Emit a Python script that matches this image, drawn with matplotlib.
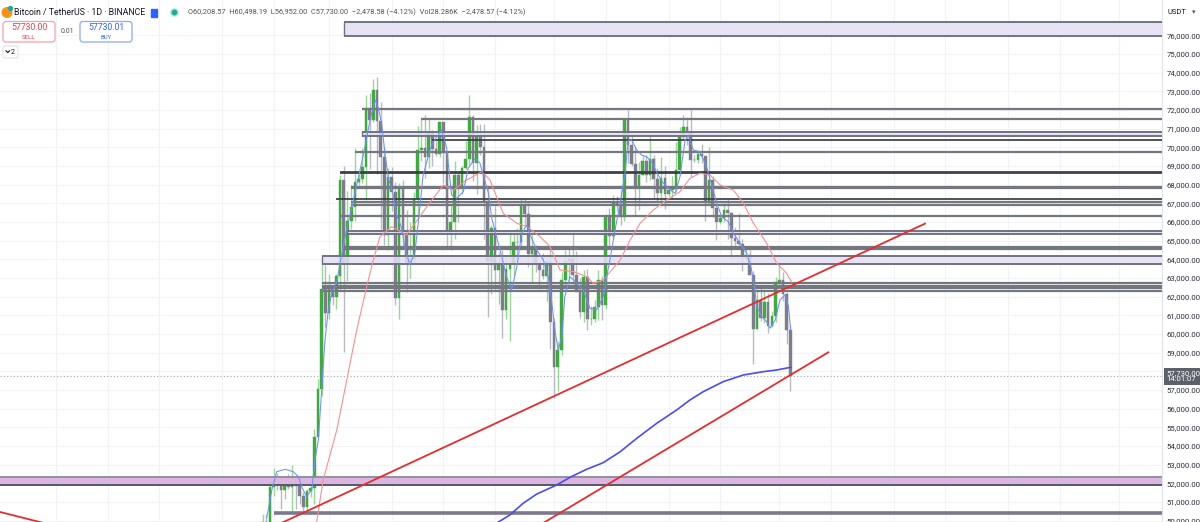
import numpy as np
import pandas as pd
import matplotlib
matplotlib.use("Agg")
import matplotlib.pyplot as plt
import matplotlib.transforms as mtransforms
from matplotlib.patches import FancyBboxPatch, Circle, Rectangle
from matplotlib.ticker import FuncFormatter

plt.rcParams['font.family'] = ['Roboto', 'DejaVu Sans']

# ---------------- data ----------------
base_day = '2024-02-14'          # day offsets below are counted from this date
first_candle = '2024-02-12'

opens = [48300, 49917, 49699, 51795, 51912, 52120, 51662, 52121, 51780, 52259, 51839, 51304, 50731, 51571,
         51733, 54476, 57037, 62432, 61130, 62387, 61987, 63113, 68245, 63724, 66074, 66823, 68124, 68313,
         68955, 72099, 71452, 73072, 71388, 69499, 65300, 68393, 67609, 61937, 67840, 65501, 63797, 64037,
         67211, 69880, 69988, 69455, 70744, 69892, 69645, 71333, 69702, 65446, 65980, 68508, 67837, 68896,
         69360, 71620, 69146, 70631, 70006, 67116, 63924, 65661, 63420, 63793, 61277, 63470, 63818, 64941,
         64926, 66838, 66407, 64276, 64481, 63756, 63419, 63113, 63841, 60637, 58254, 59123, 62889, 63891,
         64031, 63161, 62334, 61188, 63049, 60792, 60793, 61448, 62901, 61552, 66256, 65231, 67051, 66940,
         66278, 71446, 70136, 69122, 67929, 68526, 69265, 68518, 69394, 68296, 67578, 68364, 67491, 67706,
         67752, 68804, 70567, 71082, 70757, 69342, 69305, 69647, 69513, 66998, 68242, 66757, 66012, 66192,
         66640, 66491, 65140, 64960, 64828, 64096, 64252, 63180, 60277, 61806, 60864, 61706, 60427, 60986,
         62772, 62900, 62123, 60209]
highs = [50334, 50368, 52043, 52816, 52572, 52200, 52348, 52483, 52985, 52382, 52027, 51548, 51700, 51950,
         54910, 57588, 64000, 63676, 63200, 62433, 63231, 68500, 69000, 67637, 67985, 69990, 68590, 69940,
         72800, 72910, 73650, 73777, 72422, 70043, 68918, 68955, 68121, 68100, 68240, 66650, 65999, 67622,
         71150, 71561, 71727, 71552, 70916, 70357, 71366, 71337, 69708, 66914, 69291, 68725, 69001, 70326,
         72797, 71742, 71172, 71256, 71227, 67931, 65840, 66867, 64365, 64500, 64117, 65450, 65389, 65665,
         67233, 67208, 67075, 65297, 64789, 63923, 64362, 64228, 64734, 60860, 59602, 63321, 64494, 64646,
         65500, 64422, 62986, 63420, 63469, 61490, 61818, 63450, 63118, 66444, 66739, 67451, 67400, 67700,
         71515, 71979, 70625, 70041, 69220, 69563, 69562, 70687, 69562, 68903, 69500, 69000, 67857, 68447,
         70274, 71063, 71758, 71625, 71997, 69582, 69850, 70195, 69560, 69999, 68449, 67294, 66400, 66996,
         67244, 66560, 65727, 66482, 65066, 64527, 64523, 63369, 62292, 62480, 62293, 62189, 61225, 63058,
         63861, 63300, 62273, 60498]
lows = [47710, 48300, 49225, 51314, 51625, 50625, 51165, 51700, 50521, 50625, 50875, 50500, 50583, 51280,
        50901, 54450, 56690, 60364, 60777, 61561, 61320, 62300, 59005, 62848, 65603, 66074, 67958, 68108,
        67194, 68845, 71333, 68555, 65630, 64780, 64522, 66566, 61555, 60775, 64529, 62260, 63000, 63794,
        66385, 69280, 68381, 68903, 69009, 69560, 69504, 68062, 64533, 64493, 65064, 66011, 67491, 68857,
        69040, 68212, 67518, 69571, 65086, 60919, 62134, 62274, 61600, 59768, 60775, 59600, 63090, 64207,
        64500, 65864, 63589, 62794, 63322, 62424, 62945, 61765, 59191, 56552, 56937, 58849, 62584, 62822,
        62700, 62261, 60877, 60648, 60187, 60492, 60632, 60759, 60760, 61320, 64601, 65106, 66601, 65858,
        66060, 69162, 68977, 66356, 66622, 68515, 68128, 68250, 67280, 67125, 67118, 66670, 67386, 67257,
        67611, 68507, 70383, 70119, 68420, 69208, 69160, 69160, 66051, 66902, 66251, 65056, 65880, 66023,
        65071, 64060, 64694, 64560, 63379, 63944, 63178, 58402, 60239, 60712, 60583, 60063, 60388, 60632,
        62500, 61768, 59437, 56952]
closes = [49917, 49699, 51795, 51912, 52120, 51662, 52121, 51780, 52259, 51839, 51304, 50731, 51571, 51733,
          54476, 57037, 62432, 61130, 62387, 61987, 63113, 68245, 63724, 66074, 66823, 68124, 68313, 68955,
          72099, 71452, 73072, 71388, 69499, 65300, 68393, 67609, 61937, 67840, 65501, 63797, 64037, 67211,
          69880, 69988, 69455, 70744, 69892, 69645, 71333, 69702, 65446, 65980, 68508, 67837, 68896, 69360,
          71620, 69146, 70631, 70006, 67116, 63924, 65661, 63420, 63793, 61277, 63470, 63818, 64941, 64926,
          66838, 66407, 64276, 64481, 63756, 63419, 63113, 63841, 60637, 58254, 59123, 62889, 63891, 64031,
          63161, 62334, 61188, 63049, 60792, 60793, 61448, 62901, 61552, 66256, 65231, 67051, 66940, 66278,
          71446, 70136, 69122, 67929, 68526, 69265, 68518, 69394, 68296, 67578, 68364, 67491, 67706, 67752,
          68804, 70567, 71082, 70757, 69342, 69305, 69647, 69513, 66998, 68242, 66757, 66012, 66192, 66640,
          66491, 65140, 64960, 64828, 64096, 64252, 63180, 60277, 61806, 60864, 61706, 60427, 60986, 62772,
          62900, 62123, 60209, 57730]

last_price = 57730

# short moving average (blue, thin): day offset, price
fast_ma_day = [-0.9, 0.5, 1.8, 4.1, 6.3, 7.7, 8.6, 9.9, 11.3, 12.2, 13.1, 14.0, 14.9, 15.8, 16.7, 18.1, 19.4,
               20.8, 22.1, 23.5, 24.9, 26.2, 27.1, 28.5, 29.4, 30.3, 31.2, 32.1, 33.4, 34.3, 35.7, 36.6, 37.9,
               39.3, 40.2, 41.5, 42.5, 43.8, 45.2, 46.5, 47.9, 49.2, 50.6, 52.4, 53.7, 55.6, 56.9, 59.2, 60.1,
               61.4, 62.8, 64.1, 65.5, 66.9, 68.2, 69.6, 70.9, 72.3, 74.1, 75.4, 76.3, 77.2, 78.1, 79.1, 79.9,
               81.3, 83.1, 84.9, 86.7, 88.5, 90.3, 91.2, 92.6, 93.5, 94.9, 96.2, 97.1, 98.0, 99.4, 100.7,
               102.1, 103.4, 105.2, 106.6, 108.4, 109.8, 111.1, 112.5, 113.4, 114.7, 116.5, 118.3, 119.7,
               121.1, 122.4, 124.2, 125.6, 127.4, 129.2, 130.5, 131.4, 131.9, 133.3, 134.6, 135.5, 136.9,
               138.2, 139.6, 140.5, 141.1]
fast_ma_val = [50135, 51636, 52616, 52745, 52616, 52348, 51813, 51277, 51636, 53243, 54315, 56995, 59674,
               61282, 62177, 62798, 64229, 65660, 66732, 67981, 69229, 70483, 71464, 72536, 72091, 71196,
               69588, 68340, 67445, 66373, 65660, 64588, 63693, 64406, 66014, 68517, 69229, 70124, 70569,
               70928, 69947, 67445, 67268, 67622, 68876, 69412, 69144, 67536, 66196, 65210, 64138, 63067,
               62354, 63602, 65392, 65837, 65124, 64497, 63961, 63067, 61818, 60210, 59138, 59851, 61994,
               63067, 62713, 62354, 61373, 61282, 61995, 63000, 64497, 65570, 67000, 68608, 70392, 70392,
               69856, 69588, 69497, 69229, 68517, 68072, 67713, 67536, 68426, 70392, 70660, 69856, 69765,
               68961, 67981, 67000, 66282, 66014, 65392, 64856, 64320, 63426, 62354, 61459, 60923, 60655,
               60302, 60746, 61818, 62086, 61459, 60210]

# slower moving average (light red)
slow_ma_day = [12.0, 12.7, 14.4, 18.1, 20.8, 23.5, 26.2, 28.0, 29.8, 33.0, 37.0, 42.5, 47.0, 49.7, 53.3,
               57.4, 59.6, 63.2, 66.9, 69.6, 73.2, 75.9, 78.6, 82.2, 85.8, 87.6, 90.3, 92.6, 94.9, 97.6,
               100.3, 103.9, 107.5, 111.1, 113.8, 116.5, 119.2, 122.0, 125.6, 128.3, 131.0, 134.6, 137.3,
               140.0, 141.4]
slow_ma_val = [49100, 49990, 52170, 54850, 57530, 60210, 62530, 63960, 65210, 65750, 65300, 66820, 67980,
               67710, 68250, 68690, 68250, 66460, 65930, 65750, 65210, 64670, 63430, 63340, 63070, 62710,
               62890, 63430, 63960, 65030, 65930, 66640, 67180, 67620, 68340, 68610, 68520, 67980, 67710,
               67000, 65930, 64860, 63790, 63250, 62760]

# long moving average (blue)
long_ma_day = [58.0, 61.9, 65.0, 68.6, 72.3, 77.7, 81.3, 85.8, 90.3, 94.9, 99.4, 104.8, 110.2, 113.8, 117.4,
               122.8, 128.3, 133.7, 137.3, 141.1]
long_ma_val = [49420, 49921, 50296, 50923, 51421, 51904, 52316, 52745, 53099, 53688, 54406, 55210, 55923,
               56459, 56904, 57440, 57801, 57977, 58067, 58211]

# trend lines: (start day, start price, end day, end price)
trend_lines = [(0.5, 49630, 177.5, 65910),
               (70.0, 49388, 151.3, 59015),
               (-73.2, 50460, -58.0, 49700)]

# horizontal levels (price, start date)
gray_levels = [(72040, '2024-03-10'), (71500, '2024-03-26'), (69765, '2024-03-08'),
               (67890, '2024-03-07'), (67800, '2024-03-07'), (67050, '2024-03-07'),
               (66910, '2024-03-07'), (66335, '2024-03-04'), (64675, '2024-03-05'),
               (64550, '2024-03-05'), (62730, '2024-02-28'), (62590, '2024-02-28'),
               (62450, '2024-02-28'), (62300, '2024-02-28')]
dark_levels = [(70390, '2024-03-29'), (68700, '2024-03-04'), (68600, '2024-03-04'),
               (67245, '2024-03-03')]
bottom_level = (50420, '2024-02-15')

# zones (top, bottom, start date)
lavender_zones = [(76716, 75966, '2024-03-05'), (70800, 70590, '2024-03-10'),
                  (65530, 65340, '2024-03-06'), (64160, 63745, '2024-02-28')]
pink_zone = (52348, 51887, '2023-11-01')

grid_dates = ['2023-12-01', '2023-12-18', '2024-01-01', '2024-01-15', '2024-02-01', '2024-02-15',
              '2024-03-01', '2024-03-18', '2024-04-01', '2024-04-15', '2024-05-01', '2024-05-15',
              '2024-06-01', '2024-06-15', '2024-07-01', '2024-07-15', '2024-08-01', '2024-08-15',
              '2024-09-01', '2024-09-15', '2024-10-01']
price_ticks = list(range(50000, 77000, 1000))

# ---------------- figure ----------------
W, H = 1200, 522
fig = plt.figure(figsize=(W / 100, H / 100), dpi=100)
ax = fig.add_axes([0, 0, 1162 / W, 1])

base = pd.Timestamp(base_day)
def dnum(s):
    return (pd.Timestamp(s) - base) / pd.Timedelta(days=1)

xmin, xmax = -73.17, 241.73
ax.set_xlim(xmin, xmax)
ax.set_ylim(49921, 77895)

dates = pd.date_range(first_candle, periods=len(closes), freq='D')
day = np.array([(d - base).days for d in dates], dtype=float)
o = np.array(opens, float); h = np.array(highs, float)
l = np.array(lows, float); c = np.array(closes, float)
up = c >= o

# grid
for p in price_ticks:
    ax.axhline(p, color='#f2f3f7', lw=0.8, zorder=0)
for g in grid_dates:
    ax.axvline(dnum(g), color='#f2f3f7', lw=0.8, zorder=0)

# zones
for top, bot, s in lavender_zones:
    x0 = dnum(s)
    ax.fill_between([x0, xmax], bot, top, color='#e3dff3', alpha=0.85, lw=0, zorder=4)
    ax.hlines([top, bot], x0, xmax, color='#6f7280', lw=1.4, zorder=5)
    ax.vlines(x0, bot, top, color='#6f7280', lw=1.0, zorder=5)
top, bot, s = pink_zone
ax.fill_between([dnum(s), xmax], bot, top, color='#dcb6e1', lw=0, zorder=4)
ax.hlines(top, dnum(s), xmax, color='#8f929c', lw=1.4, zorder=5)
ax.hlines(bot, dnum(s), xmax, color='#55586a', lw=1.4, zorder=5)

# candles
ax.vlines(day[up], l[up], h[up], color='#9dd59b', lw=1.0, zorder=2)
ax.vlines(day[~up], l[~up], h[~up], color='#b9bbc3', lw=1.0, zorder=2)
ax.bar(day[up], c[up] - o[up], bottom=o[up], width=0.72, color='#43a843',
       edgecolor='#43a843', lw=0.3, zorder=3)
ax.bar(day[~up], c[~up] - o[~up], bottom=o[~up], width=0.72, color='#7c7f8a',
       edgecolor='#7c7f8a', lw=0.3, zorder=3)

# levels
for p, s in gray_levels:
    ax.hlines(p, dnum(s), xmax, color='#74777f', lw=1.6, zorder=5)
for p, s in dark_levels:
    ax.hlines(p, dnum(s), xmax, color='#3a3d47', lw=1.25, zorder=5)
p, s = bottom_level
ax.hlines(p, dnum(s), xmax, color='#7d7890', lw=2.6, zorder=5)

# moving averages
ax.plot(slow_ma_day, slow_ma_val, color='#f59090', lw=0.8, zorder=6)
ax.plot(fast_ma_day, fast_ma_val, color='#6e90f2', lw=0.75, zorder=6)
ax.plot(long_ma_day, long_ma_val, color='#4a4cf5', lw=1.2, zorder=6)

# trend lines
for d0, p0, d1, p1 in trend_lines:
    ax.plot([d0, d1], [p0, p1], color='#e52d2d', lw=1.3, zorder=7)

# current price dotted line
ax.axhline(last_price, color='#a3a6ae', lw=0.8, ls=(0, (1, 2)), zorder=1)

# price axis
ax.yaxis.tick_right()
ax.set_yticks(price_ticks)
ax.yaxis.set_major_formatter(FuncFormatter(lambda v, pos: f'{v:,.2f}'))
ax.tick_params(axis='y', length=0, pad=3.5, labelsize=5.6, labelcolor='#2a2e39')
ax.set_xticks([])
for sp in ['top', 'left', 'bottom']:
    ax.spines[sp].set_visible(False)
ax.spines['right'].set_color('#e0e3eb')
ax.spines['right'].set_linewidth(0.8)

trans = mtransforms.blended_transform_factory(ax.transAxes, ax.transData)
ax.text(1.0035, last_price, f'{last_price:,.2f}\n14:01:07', transform=trans, ha='left', va='center',
        fontsize=5.6, color='white', linespacing=1.05, zorder=20, clip_on=False,
        bbox=dict(boxstyle='square,pad=0.28', fc='#5d606b', ec='none'))

# ---------------- overlay UI (pixel coords) ----------------
ov = fig.add_axes([0, 0, 1, 1], facecolor='none')
ov.set_xlim(0, W); ov.set_ylim(H, 0); ov.axis('off')

ov.add_patch(Circle((7, 12.5), 4.8, color='#f7931a', zorder=3))
ov.add_patch(Circle((10.5, 8.5), 2.0, color='#26a69a', zorder=4))
ov.text(14, 12.5, 'Bitcoin / TetherUS · 1D · BINANCE', fontsize=6.3, color='#131722', va='center', ha='left')
ov.add_patch(Rectangle((151, 8.5), 6, 8, color='#2962ff'))
ov.add_patch(Circle((174.5, 12.5), 4.0, color='#c8eee6'))
ov.add_patch(Circle((174.5, 12.5), 2.3, color='#22ab94'))
ov.text(188, 12.5, 'O60,208.57  H60,498.19  L56,952.00  C57,730.00  −2,478.58 (−4.12%)  Vol28.286K  −2,478.57 (−4.12%)',
        fontsize=5.3, color='#50535e', va='center', ha='left')

ov.add_patch(FancyBboxPatch((3, 21.5), 52, 20.5, boxstyle='round,pad=0,rounding_size=3',
                            fc='white', ec='#f7a1a8', lw=0.9))
ov.text(29, 28, '57730.00', fontsize=6.2, color='#f23645', ha='center', va='center')
ov.text(29, 37.5, 'SELL', fontsize=4.4, color='#f23645', ha='center', va='center')
ov.text(67, 31.5, '0.01', fontsize=5, color='#50535e', ha='center', va='center')
ov.add_patch(FancyBboxPatch((80, 21.5), 52, 20.5, boxstyle='round,pad=0,rounding_size=3',
                            fc='white', ec='#8fa9f7', lw=0.9))
ov.text(106, 28, '57730.01', fontsize=6.2, color='#2962ff', ha='center', va='center')
ov.text(106, 37.5, 'BUY', fontsize=4.4, color='#2962ff', ha='center', va='center')
ov.add_patch(FancyBboxPatch((3, 46), 15, 12, boxstyle='round,pad=0,rounding_size=2',
                            fc='white', ec='#e0e3eb', lw=0.8))
ov.plot([6, 7.8, 9.6], [50.8, 52.6, 50.8], color='#131722', lw=0.8)
ov.text(12.5, 52, '2', fontsize=5.2, color='#131722', ha='center', va='center')

ov.text(1168, 12, 'USDT', fontsize=5.4, color='#131722', ha='left', va='center')
ov.text(1194, 12.5, '▾', fontsize=5, color='#50535e', ha='center', va='center')

fig.savefig('out.png', dpi=100)
